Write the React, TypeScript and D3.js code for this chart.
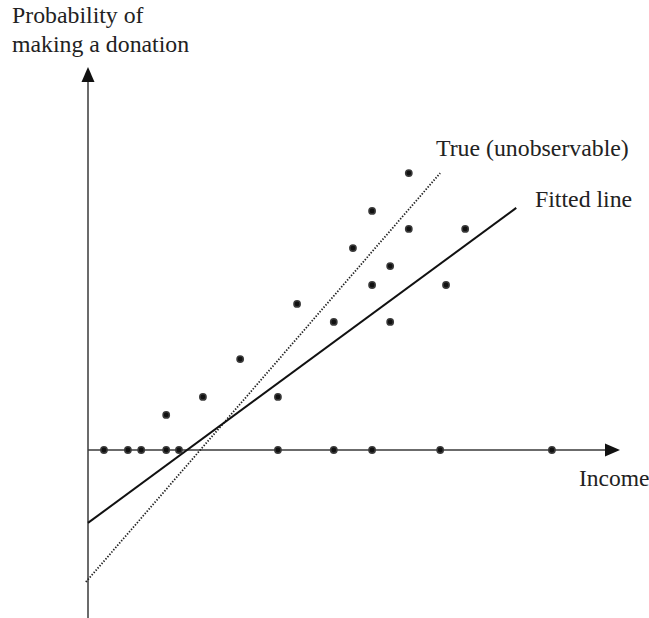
import React from "react";
import * as d3 from "d3";

// Income (0–100 arbitrary units) and probability values
const zeroIncomes = [3.0, 7.5, 10.0, 14.7, 17.1, 35.7, 46.2, 53.4, 66.2, 87.2];
const donorIncomes = [14.7, 21.6, 28.6, 35.7, 39.3, 46.2, 49.8, 53.4, 53.4, 56.8, 56.8, 60.3, 60.3, 67.3, 70.9];
const donorProbs = [0.117, 0.177, 0.303, 0.177, 0.487, 0.427, 0.673, 0.797, 0.55, 0.613, 0.427, 0.923, 0.737, 0.55, 0.737];

const fittedX = [0, 80.5];
const fittedY = [-0.243, 0.807];
const trueX = [-0.4, 66.2];
const trueY = [-0.44, 0.923];

const xAxisExtent = [0, 100];
const yAxisExtent = [-0.56, 1.277];

const W = 649;
const H = 618;
const FONT = "'Liberation Serif', 'Times New Roman', serif";

export default function App() {
  const x = d3.scaleLinear().domain([0, 100]).range([88, 620]);
  const y = d3.scaleLinear().domain([0, 1]).range([450, 150]);

  const line = d3
    .line<[number, number]>()
    .x((d) => x(d[0]))
    .y((d) => y(d[1]));

  const fitted: [number, number][] = fittedX.map((v, i) => [v, fittedY[i]]);
  const truth: [number, number][] = trueX.map((v, i) => [v, trueY[i]]);

  const pts: [number, number][] = [
    ...zeroIncomes.map((v) => [v, 0] as [number, number]),
    ...donorIncomes.map((v, i) => [v, donorProbs[i]] as [number, number]),
  ];

  const x0 = x(0);
  const y0 = y(0);
  const xEnd = x(xAxisExtent[1]);
  const yTop = y(yAxisExtent[1]);
  const yBot = y(yAxisExtent[0]);
  const ah = 15;
  const aw = 6.5;
  const axisColor = "#3a3a3a";

  return (
    <svg
      width={W}
      height={H}
      style={{ position: "absolute", left: 0, top: 0, background: "#fff" }}
      fontFamily={FONT}
    >
      {/* axes */}
      <line x1={x0} x2={x0} y1={yTop + ah} y2={yBot} stroke={axisColor} strokeWidth={1.5} />
      <path d={`M${x0},${yTop} L${x0 - aw},${yTop + ah} L${x0 + aw},${yTop + ah} Z`} fill="#111" />
      <line x1={x0} x2={xEnd - ah} y1={y0} y2={y0} stroke={axisColor} strokeWidth={1.5} />
      <path d={`M${xEnd},${y0} L${xEnd - ah},${y0 - aw} L${xEnd - ah},${y0 + aw} Z`} fill="#111" />

      {/* lines */}
      <path d={line(truth) || ""} fill="none" stroke="#222" strokeWidth={1.8} strokeDasharray="1.4 1.6" />
      <path d={line(fitted) || ""} fill="none" stroke="#111" strokeWidth={2} />

      {/* points */}
      {pts.map((d, i) => (
        <g key={i}>
          <circle cx={x(d[0])} cy={y(d[1])} r={3.9} fill="#3a3a3a" />
          <circle cx={x(d[0])} cy={y(d[1])} r={2.4} fill="#111" />
        </g>
      ))}

      {/* labels */}
      <g fill="#222" fontSize={23.8}>
        <text x={12} y={23}>Probability of</text>
        <text x={12} y={52}>making a donation</text>
        <text x={436} y={156}>True (unobservable)</text>
        <text x={535} y={207}>Fitted line</text>
        <text x={579} y={486} fontSize={23.5}>Income</text>
      </g>
    </svg>
  );
}
